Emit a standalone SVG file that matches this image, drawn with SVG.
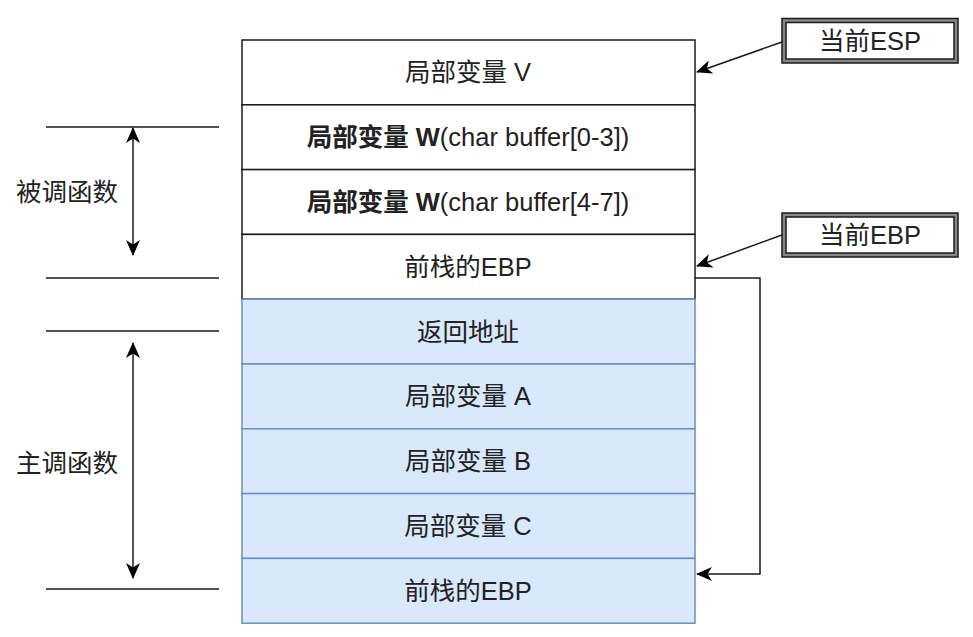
<svg xmlns="http://www.w3.org/2000/svg" width="973" height="637" viewBox="0 0 973 637">
<style>
text{font-family:"Liberation Sans","Noto Sans CJK SC",sans-serif;font-size:25.5px;fill:#222222;text-anchor:middle;dominant-baseline:central}
.w{fill:#ffffff;stroke:#1a1a1a;stroke-width:1.5}
.b{fill:#dae8fc;stroke:#6c8ebf;stroke-width:1.5}
.ln{fill:none;stroke:#1a1a1a;stroke-width:1.5}
.lb{fill:#888888;stroke:#1a1a1a;stroke-width:1.5}
.li{fill:#ffffff;stroke:#1a1a1a;stroke-width:1.5}
</style>
<defs>
<marker id="arr" viewBox="0 0 16 14" refX="15" refY="7" markerWidth="16" markerHeight="14" markerUnits="userSpaceOnUse" orient="auto-start-reverse">
<path d="M0,0 L16,7 L0,14 L4.5,7 Z" fill="#000"/>
</marker>
</defs>
<rect width="973" height="637" fill="#ffffff"/>
<g id="row-v"><rect class="w" x="242" y="40" width="453" height="64.8"/><text x="468" y="72.4">局部变量 V</text></g>
<g id="row-w1"><rect class="w" x="242" y="104.8" width="453" height="64.8"/><text x="468" y="137.2"><tspan font-weight="bold">局部变量 W</tspan>(char buffer[0-3])</text></g>
<g id="row-w2"><rect class="w" x="242" y="169.6" width="453" height="64.8"/><text x="468" y="202"><tspan font-weight="bold">局部变量 W</tspan>(char buffer[4-7])</text></g>
<g id="row-ebp1"><rect class="w" x="242" y="234.4" width="453" height="64.8"/><text x="468" y="266.8">前栈的EBP</text></g>
<g id="row-ret"><rect class="b" x="242" y="299.2" width="453" height="64.8"/><text x="468" y="331.6">返回地址</text></g>
<g id="row-a"><rect class="b" x="242" y="364" width="453" height="64.8"/><text x="468" y="396.4">局部变量 A</text></g>
<g id="row-b"><rect class="b" x="242" y="428.8" width="453" height="64.8"/><text x="468" y="461.2">局部变量 B</text></g>
<g id="row-c"><rect class="b" x="242" y="493.6" width="453" height="64.8"/><text x="468" y="526">局部变量 C</text></g>
<g id="row-ebp2"><rect class="b" x="242" y="558.4" width="453" height="64.8"/><text x="468" y="590.8">前栈的EBP</text></g>
<g id="label-esp"><rect class="lb" x="782" y="18.5" width="176" height="44.5"/><rect class="li" x="786" y="22.5" width="168" height="36.5"/><text x="870" y="41">当前ESP</text></g>
<g id="label-ebp"><rect class="lb" x="782" y="213" width="176" height="44"/><rect class="li" x="786" y="217" width="168" height="36"/><text x="870" y="235">当前EBP</text></g>
<g id="label-callee"><text x="67" y="192">被调函数</text></g>
<g id="label-caller"><text x="67" y="463">主调函数</text></g>
<g id="connectors">
<path class="ln" d="M782,42 L697,72" marker-end="url(#arr)"/>
<path class="ln" d="M782,235 L697,266" marker-end="url(#arr)"/>
<path class="ln" d="M695,278 L760,278 L760,574 L697,574" marker-end="url(#arr)"/>
<path class="ln" d="M46,127 L219,127 M46,278 L219,278 M46,331 L219,331 M46,589 L219,589"/>
<path class="ln" d="M133,128 L133,255" marker-start="url(#arr)" marker-end="url(#arr)"/>
<path class="ln" d="M133,343 L133,578" marker-start="url(#arr)" marker-end="url(#arr)"/>
</g>
</svg>
